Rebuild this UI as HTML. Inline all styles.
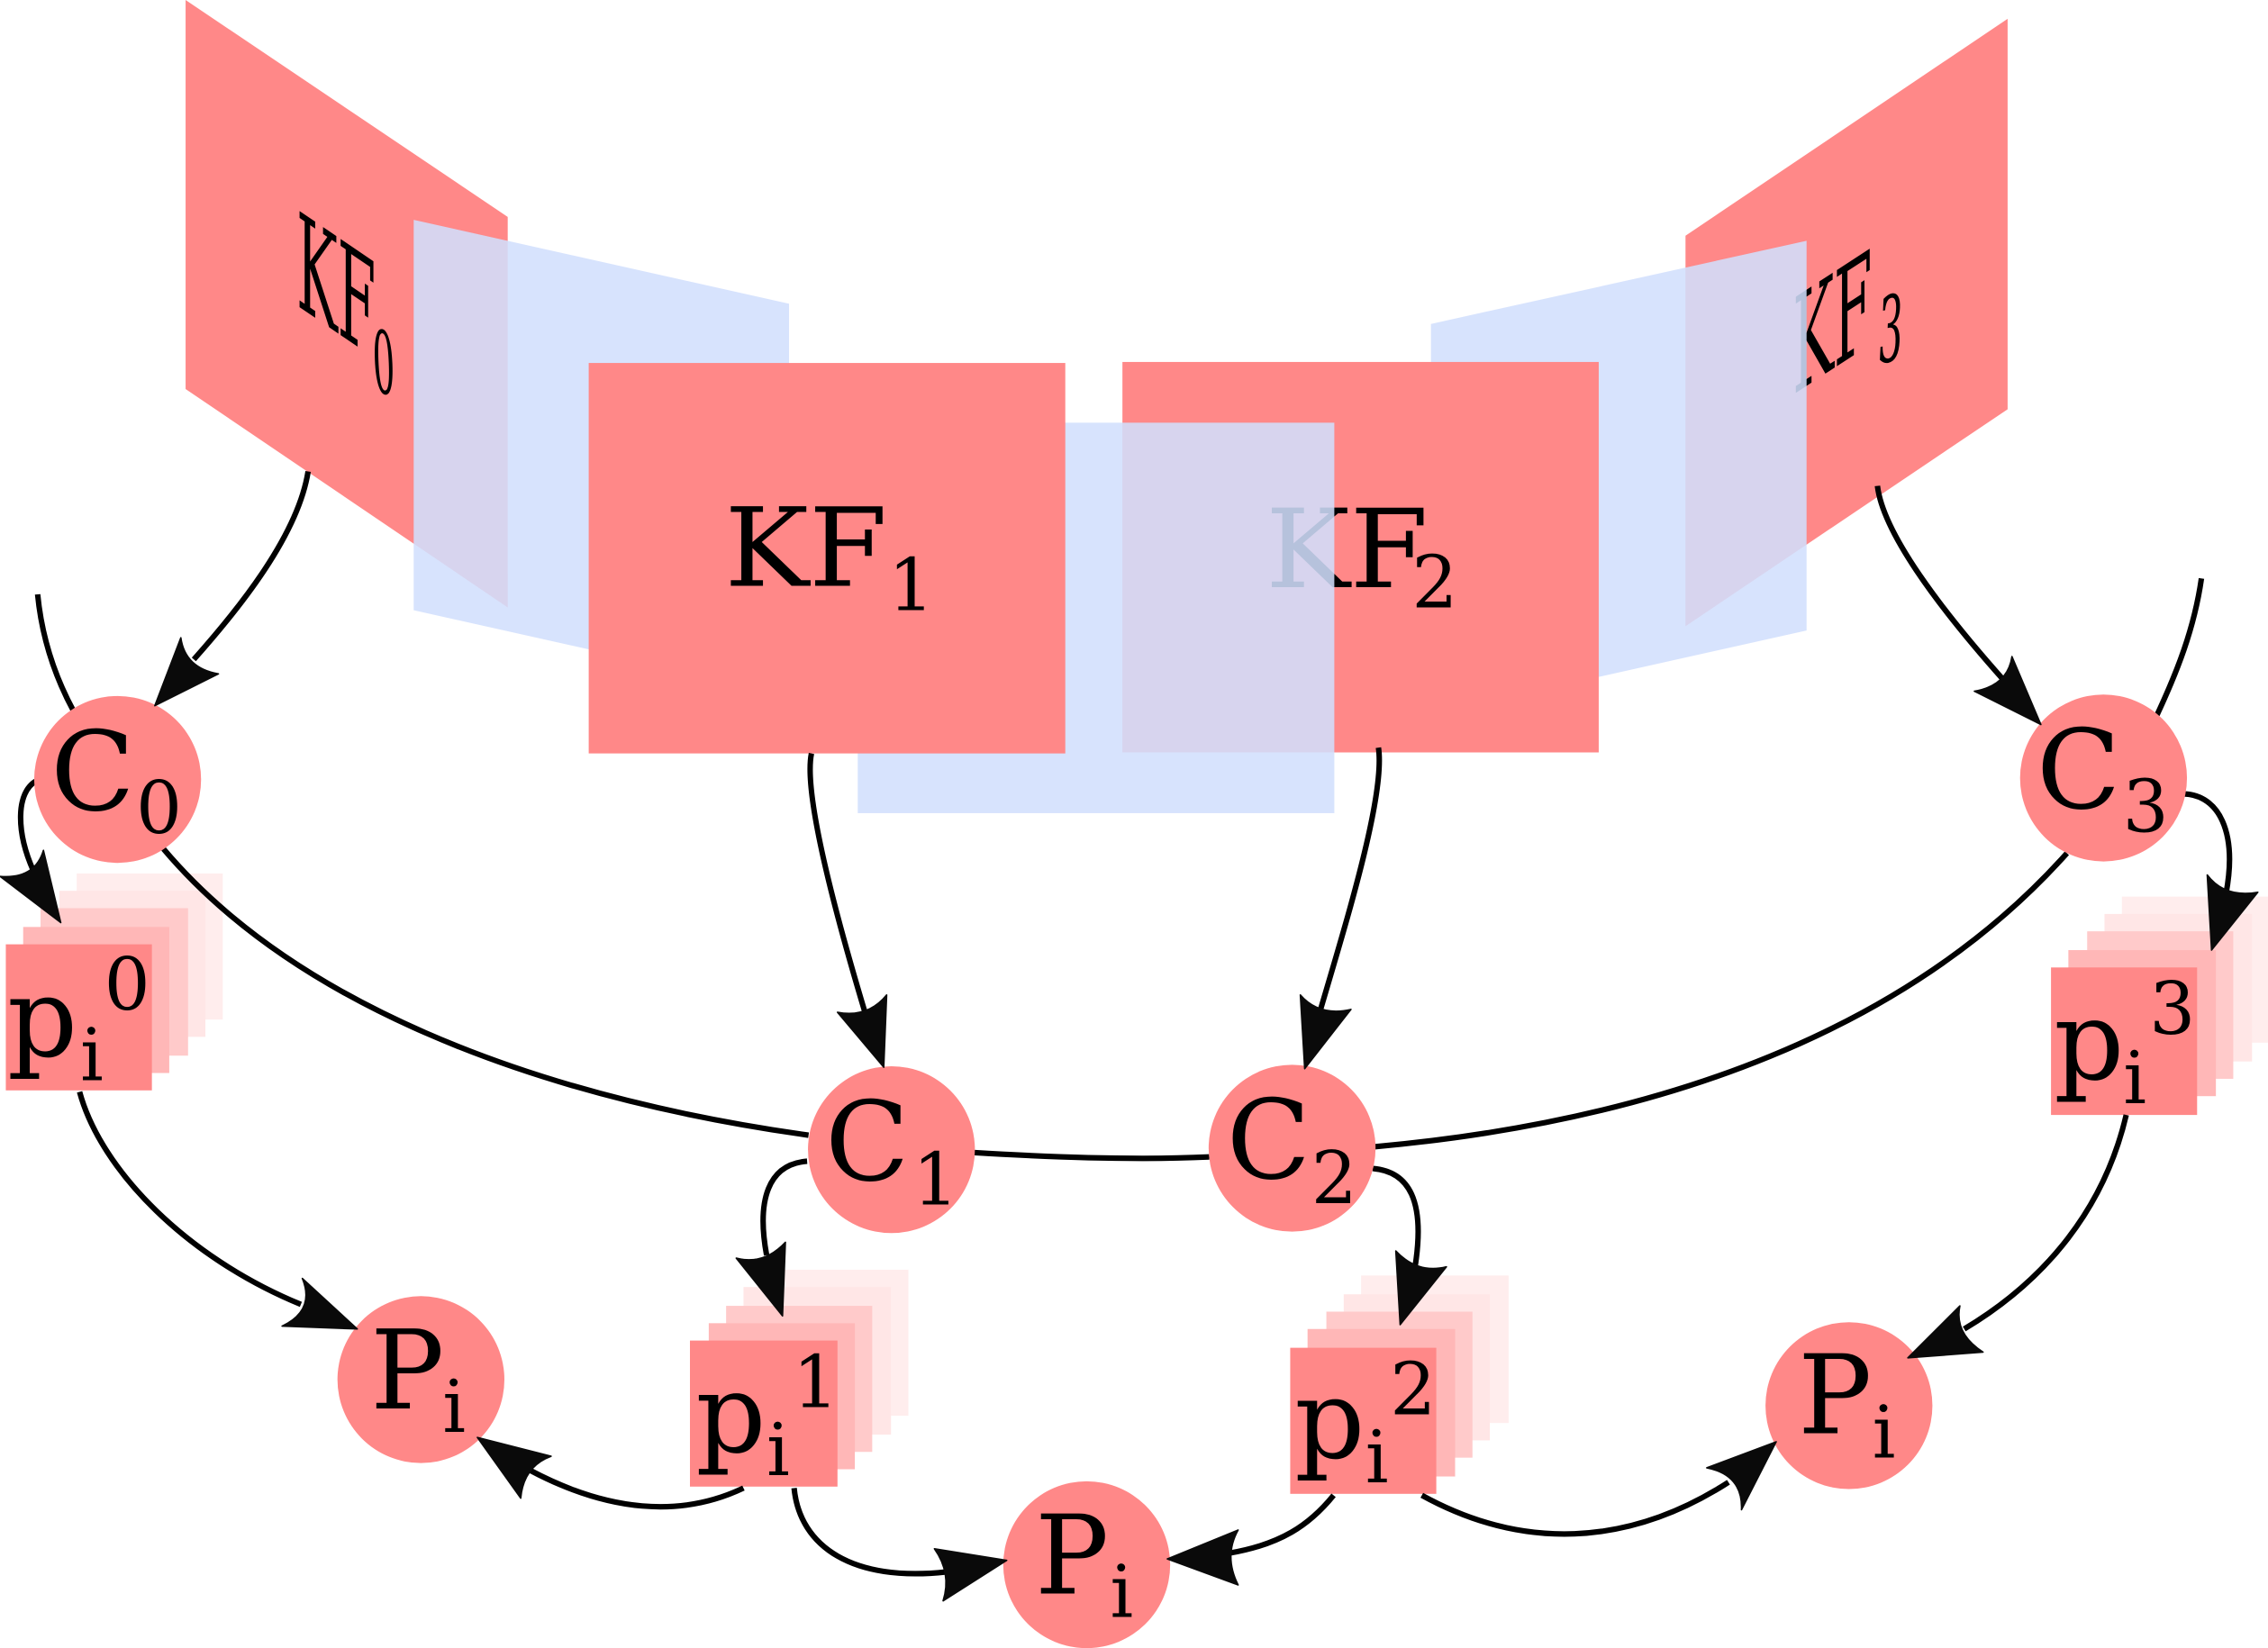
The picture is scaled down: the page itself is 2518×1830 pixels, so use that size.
<!DOCTYPE html>
<html lang="en">
<head>
<meta charset="utf-8">
<title>Keyframe diagram</title>
<style>
html,body{margin:0;padding:0;background:#fff;width:2518px;height:1830px;overflow:hidden}
svg{display:block}
text{font-family:"DejaVu Serif","Liberation Serif",serif;fill:#000}
.big{font-size:76px}
.kf{font-size:75px}
.sm{font-size:50px}
.red{fill:#ff8888}
.blue{fill:#d1dffd;fill-opacity:.87}
.ln{fill:none;stroke:#000;stroke-width:3.8}
.hd{fill:#0a0a0a;stroke:#0a0a0a;stroke-width:1;stroke-linejoin:round}
.l1{fill:#ffb7b7}.l2{fill:#ffcaca}.l3{fill:#ffe6e6}.l4{fill:#ffeded}
</style>
</head>
<body>
<svg width="2518" height="1830" viewBox="0 0 1568 1139.6" xmlns="http://www.w3.org/2000/svg">

<g>
  <polygon class="red" points="128.3,0 351,150 351,420 128.3,269"/>
  <text class="big" transform="matrix(.5,.34,0,1.2,205,211)">KF</text>
  <text class="sm" transform="matrix(.48,.1,.05,1.2,258.5,270.5)">0</text>
  <polygon class="blue" points="286,152 545.5,210 545.5,480 286,422"/>
</g>

<g>
  <polygon class="red" points="1165.3,163 1388,13 1388,283 1165.3,433"/>
  <text class="big" transform="matrix(.5,-.325,0,1.2,1239.5,273)">KF</text>
  <text class="sm" transform="matrix(.54,-.1,-.06,1.27,1297.5,251.5)">3</text>
  <polygon class="blue" points="989.3,224 1249,166.5 1249,436 989.3,494"/>
</g>

<g>
  <rect class="red" x="776" y="250.3" width="329.3" height="270"/>
  <text class="kf" transform="matrix(1.04,0,0,1,875,406)">KF</text>
  <text class="sm" x="976" y="420">2</text>
</g>
<rect class="blue" x="593" y="292.3" width="329.5" height="270"/>

<g>
  <rect class="red" x="407" y="251" width="329.5" height="270"/>
  <text class="kf" transform="matrix(1.04,0,0,1,501,405)">KF</text>
  <text class="sm" x="614" y="422">1</text>
</g>

<g>
  <rect class="l4" x="53" y="604" width="101" height="101"/>
  <rect class="l3" x="41" y="616" width="101" height="101"/>
  <rect class="l2" x="28" y="628" width="102" height="102"/>
  <rect class="l1" x="16" y="641" width="101" height="101"/>
  <rect class="red" x="4" y="653" width="101" height="101"/>
  <text class="big" x="5" y="730">p</text>
  <text class="sm" x="55.5" y="747">i</text>
  <text class="sm" x="72" y="698">0</text>
</g>
<g>
  <rect class="l4" x="526" y="878" width="102" height="101"/>
  <rect class="l3" x="514" y="890" width="102" height="102"/>
  <rect class="l2" x="502" y="903" width="101" height="101"/>
  <rect class="l1" x="490" y="915" width="101" height="101"/>
  <rect class="red" x="477" y="927" width="102" height="101"/>
  <text class="big" x="481" y="1004">p</text>
  <text class="sm" x="530" y="1020">i</text>
  <text class="sm" x="548" y="973">1</text>
</g>
<g>
  <rect class="l4" x="941" y="882" width="102" height="102"/>
  <rect class="l3" x="929" y="895" width="101" height="101"/>
  <rect class="l2" x="917" y="907" width="101" height="101"/>
  <rect class="l1" x="904" y="919" width="102" height="102"/>
  <rect class="red" x="892" y="932" width="101" height="101"/>
  <text class="big" x="895" y="1008">p</text>
  <text class="sm" x="944" y="1025">i</text>
  <text class="sm" x="961" y="978">2</text>
</g>
<g>
  <rect class="l4" x="1467" y="620" width="102" height="101"/>
  <rect class="l3" x="1455" y="632" width="102" height="102"/>
  <rect class="l2" x="1443" y="644" width="101" height="102"/>
  <rect class="l1" x="1430" y="657" width="102" height="101"/>
  <rect class="red" x="1418" y="669" width="101" height="102"/>
  <text class="big" x="1420" y="746">p</text>
  <text class="sm" x="1468" y="763">i</text>
  <text class="sm" x="1486" y="715">3</text>
</g>

<g>
  <path class="ln" d="M213,326C206,370 166,420 134,456"/>
  <path class="ln" d="M26,411C29,442 38,468 51,492"/>
  <path class="ln" d="M25,540C11,548 11,575 23,602"/>
  <path class="ln" d="M113,587C200,690 360,757 559,785"/>
  <path class="ln" d="M673,797Q772,803 836,800"/>
  <path class="ln" d="M950,793C1150,775 1320,712 1429,590"/>
  <path class="ln" d="M1522,400C1517,435 1505,465 1491,495"/>
  <path class="ln" d="M1298,336C1302,370 1345,425 1385,470"/>
  <path class="ln" d="M1510,549C1534,550 1547,575 1539,618"/>
  <path class="ln" d="M561,521C555,550 580,640 598,700"/>
  <path class="ln" d="M953,517C958,550 930,640 913,698"/>
  <path class="ln" d="M558,803C531,805 523,830 530,868"/>
  <path class="ln" d="M949,808C974,810 986,830 978,878"/>
  <path class="ln" d="M55,755C70,810 130,870 208,902"/>
  <path class="ln" d="M1470,771C1455,835 1415,885 1358,919"/>
  <path class="ln" d="M514,1029C470,1050 420,1045 367,1017"/>
  <path class="ln" d="M549,1029C553,1070 590,1094 654,1087"/>
  <path class="ln" d="M922,1034C905,1055 885,1068 850,1074"/>
  <path class="ln" d="M983,1034C1052,1072 1125,1070 1195,1025"/>
</g>

<g>
  <circle class="red" cx="81.3" cy="539" r="57.7"/>
  <text class="big" x="35" y="560">C</text>
  <text class="sm" x="94" y="576">0</text>
</g>
<g>
  <circle class="red" cx="616.3" cy="795" r="57.7"/>
  <text class="big" x="570.5" y="816">C</text>
  <text class="sm" x="631" y="833">1</text>
</g>
<g>
  <circle class="red" cx="893.3" cy="794" r="57.7"/>
  <text class="big" x="848" y="815">C</text>
  <text class="sm" x="906.5" y="832">2</text>
</g>
<g>
  <circle class="red" cx="1454.3" cy="538" r="57.7"/>
  <text class="big" x="1408" y="559">C</text>
  <text class="sm" x="1467.5" y="575">3</text>
</g>

<g>
  <circle class="red" cx="291" cy="954" r="57.7"/>
  <text class="big" x="256" y="974">P</text>
  <text class="sm" x="306" y="990">i</text>
</g>
<g>
  <circle class="red" cx="751.3" cy="1082" r="57.7"/>
  <text class="big" x="715.5" y="1102">P</text>
  <text class="sm" x="767.5" y="1118">i</text>
</g>
<g>
  <circle class="red" cx="1278.3" cy="972" r="57.7"/>
  <text class="big" x="1243" y="991">P</text>
  <text class="sm" x="1294.5" y="1008">i</text>
</g>

<g>
  <path class="hd" d="M107,488L125,441Q128,462 151,466Z"/>
  <path class="hd" d="M42,638L30,588Q24,608 0,606Z"/>
  <path class="hd" d="M247,919L209,884Q218,906 195,917Z"/>
  <path class="hd" d="M611,738L613,688Q600,704 579,700Z"/>
  <path class="hd" d="M902,739L899,688Q912,703 934,698Z"/>
  <path class="hd" d="M1411,501L1391,454Q1388,474 1365,478Z"/>
  <path class="hd" d="M1529,657L1526,605Q1538,621 1561,617Z"/>
  <path class="hd" d="M1319,939L1355,903Q1351,922 1371,935Z"/>
  <path class="hd" d="M541,910L543,859Q528,875 509,870Z"/>
  <path class="hd" d="M968,916L965,865Q980,881 1000,876Z"/>
  <path class="hd" d="M330,994L381,1007Q362,1014 360,1036Z"/>
  <path class="hd" d="M696,1079L646,1071Q658,1088 652,1107Z"/>
  <path class="hd" d="M807,1078L856,1058Q846,1076 856,1096Z"/>
  <path class="hd" d="M1228,997L1180,1015Q1205,1020 1204,1044Z"/>
</g>
</svg>
</body>
</html>
